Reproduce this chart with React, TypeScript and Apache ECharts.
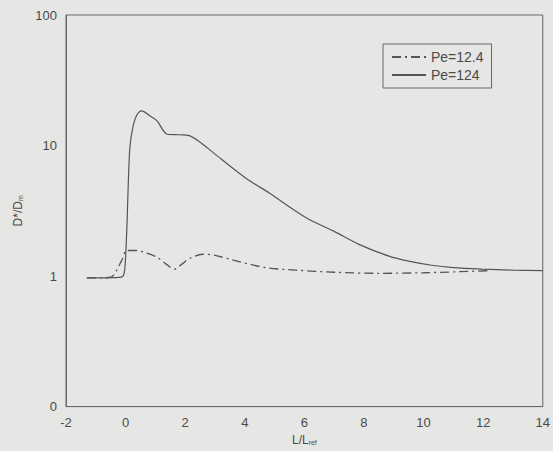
import React, { useEffect, useRef } from "react";
import * as echarts from "echarts";

const xTicks = [-2, 0, 2, 4, 6, 8, 10, 12, 14];
const yTickLabels: Record<string, string> = { "0.1": "0", "1": "1", "10": "10", "100": "100" };

const pe12x = [-1.3, -0.8, -0.5, -0.36, -0.13, 0.04, 0.37, 0.7, 1.04, 1.35, 1.64, 1.9, 2.14, 2.58, 3.0, 3.58, 4.71, 5.72, 7.0, 8.5, 10.0, 11.2, 12.2];
const pe12y = [0.97, 0.97, 0.98, 1.05, 1.32, 1.57, 1.57, 1.5, 1.4, 1.24, 1.13, 1.24, 1.36, 1.47, 1.44, 1.33, 1.16, 1.11, 1.07, 1.05, 1.06, 1.08, 1.1];

const pe124x = [-1.3, -0.6, -0.15, -0.05, 0.0, 0.05, 0.1, 0.15, 0.25, 0.37, 0.54, 0.8, 1.05, 1.4, 1.8, 2.14, 2.5, 2.92, 4.05, 4.82, 6.06, 7.0, 7.83, 8.84, 9.5, 10.27, 11.0, 11.95, 13.0, 14.0];
const pe124y = [0.97, 0.97, 0.98, 1.05, 1.4, 2.6, 6, 10, 14, 17, 18.4, 17, 15.5, 12.2, 12.1, 11.9, 10.6, 8.9, 5.6, 4.33, 2.8, 2.2, 1.75, 1.42, 1.3, 1.21, 1.16, 1.13, 1.11, 1.1];

const ink = "#4a4a4a";

export default function App() {
  const ref = useRef<HTMLDivElement>(null);
  useEffect(() => {
    if (!ref.current) return;
    const chart = echarts.init(ref.current, undefined, { renderer: "svg" });
    const font = "Liberation Sans, Arial, sans-serif";
    chart.setOption({
      animation: false,
      backgroundColor: "#e6e6e4",
      textStyle: { fontFamily: font, color: ink },
      grid: { left: 66, right: 6, top: 15, bottom: 39, show: true, borderColor: "#666", borderWidth: 1 },
      legend: {
        left: 383,
        top: 44,
        orient: "vertical",
        borderColor: "#666",
        borderWidth: 1,
        padding: [6, 8, 6, 8],
        itemWidth: 34,
        itemHeight: 10,
        itemGap: 4,
        itemStyle: { opacity: 0 },
        textStyle: { fontSize: 14, color: ink, fontFamily: font },
        data: ["Pe=12.4", "Pe=124"],
      },
      xAxis: {
        type: "value",
        min: -2,
        max: 14,
        interval: 2,
        name: "L/L{s|ref}",
        nameLocation: "middle",
        nameGap: 24,
        nameTextStyle: { fontSize: 12, color: ink, rich: { s: { fontSize: 7, verticalAlign: "bottom", padding: [6, 0, 0, 0], color: ink } } },
        axisLine: { show: true, onZero: false, lineStyle: { color: "#666" } },
        axisTick: { show: false },
        splitLine: { show: false },
        axisLabel: { fontSize: 13, color: ink, margin: 9, formatter: (v: number) => (xTicks.includes(v) ? String(v) : "") },
      },
      yAxis: {
        type: "log",
        logBase: 10,
        min: 0.1,
        max: 100,
        name: "D*/D{s|m}",
        nameLocation: "middle",
        nameGap: 20,
        nameRotate: 90,
        nameTextStyle: { fontSize: 12, color: ink, rich: { s: { fontSize: 7, verticalAlign: "bottom", color: ink } } },
        axisLine: { show: true, onZero: false, lineStyle: { color: "#666" } },
        axisTick: { show: false },
        splitLine: { show: false },
        axisLabel: {
          fontSize: 13,
          color: ink,
          margin: 9,
          formatter: (v: number) => {
            const k = String(Math.round(v * 10) / 10);
            return yTickLabels[k] ?? "";
          },
        },
      },
      series: [
        {
          name: "Pe=12.4",
          type: "line",
          symbol: "none",
          showSymbol: false,
          smooth: 0.3,
          data: pe12x.map((x, i) => [x, pe12y[i]]),
          lineStyle: { color: "#555", width: 1.3, type: [9, 4, 2, 4] },
          itemStyle: { color: "#555" },
        },
        {
          name: "Pe=124",
          type: "line",
          symbol: "none",
          showSymbol: false,
          smooth: 0.3,
          data: pe124x.map((x, i) => [x, pe124y[i]]),
          lineStyle: { color: "#555", width: 1.2, type: "solid" },
          itemStyle: { color: "#555" },
        },
      ],
    });
    return () => chart.dispose();
  }, []);
  return <div ref={ref} style={{ position: "fixed", left: 0, top: 0, width: 553, height: 451 }} />;
}
